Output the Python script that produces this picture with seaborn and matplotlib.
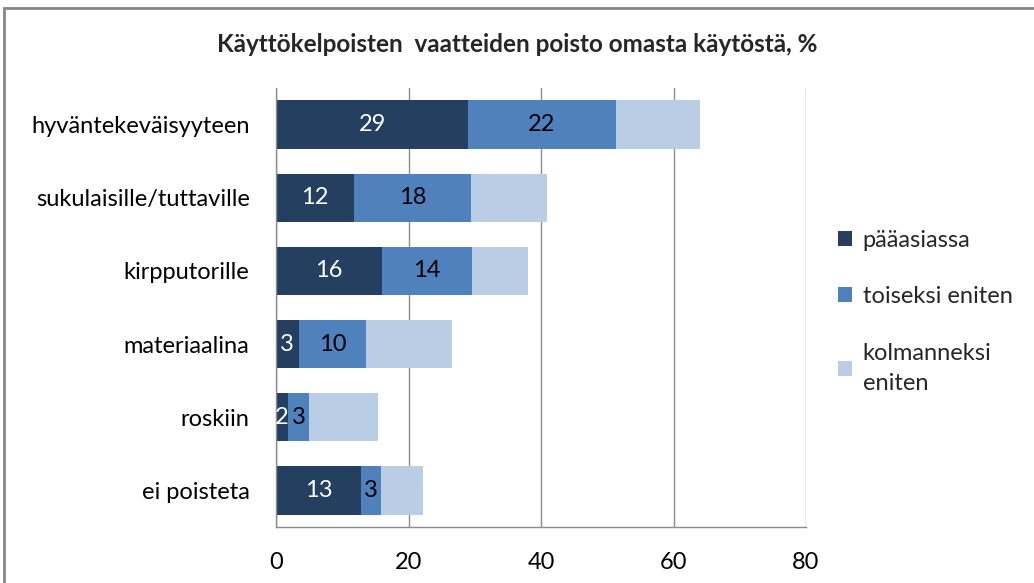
import seaborn as sns
import matplotlib.pyplot as plt
import pandas as pd
from matplotlib.patches import Rectangle

categories = ['hyväntekeväisyyteen', 'sukulaisille/tuttaville', 'kirpputorille',
              'materiaalina', 'roskiin', 'ei poisteta']
paaasiassa = [29.0, 11.8, 16.0, 3.4, 1.8, 12.8]
toiseksi = [22.3, 17.6, 13.6, 10.2, 3.2, 3.0]
kolmanneksi = [12.7, 11.5, 8.4, 13.0, 10.4, 6.4]
series_names = ['pääasiassa', 'toiseksi eniten', 'kolmanneksi\neniten']
colors = ['#243F60', '#4F81BD', '#B9CDE5']
title = 'Käyttökelpoisten  vaatteiden poisto omasta käytöstä, %'

df = pd.DataFrame({'kategoria': categories, 's1': paaasiassa,
                   's2': toiseksi, 's3': kolmanneksi})
df['c1'] = df['s1']
df['c2'] = df['s1'] + df['s2']
df['c3'] = df['c2'] + df['s3']

sns.set_style('white')
plt.rcParams['font.family'] = ['Lato', 'DejaVu Sans']

fig = plt.figure(figsize=(10.34, 5.83), dpi=100)
ax = fig.add_axes([276 / 1034, 1 - 527 / 583, 530 / 1034, 439 / 583])

# stacked bars: draw cumulative totals from largest to smallest
for col, color, name in zip(['c3', 'c2', 'c1'], colors[::-1], series_names[::-1]):
    sns.barplot(data=df, x=col, y='kategoria', color=color, width=0.66,
                saturation=1, ax=ax, label=name, linewidth=0)

# value labels for first two series
first = ax.containers[2]
second = ax.containers[1]
for bar, v in zip(first, paaasiassa):
    ax.text(bar.get_x() + bar.get_width() / 2, bar.get_y() + bar.get_height() / 2,
            f'{v:.0f}', ha='center', va='center', color='white', fontsize=17)
for bar, v, base in zip(second, toiseksi, paaasiassa):
    ax.text(base + v / 2, bar.get_y() + bar.get_height() / 2,
            f'{v:.0f}', ha='center', va='center', color='black', fontsize=17)

ax.set_xlim(0, 80)
ax.set_xticks([0, 20, 40, 60, 80])
ax.grid(axis='x', color='#8C8C8C', linewidth=1)
ax.set_axisbelow(True)
ax.set_xlabel('')
ax.set_ylabel('')
ax.tick_params(axis='x', labelsize=17, pad=18, length=0, colors='black')
ax.tick_params(axis='y', labelsize=17, pad=19, length=0, colors='black')
for s in ['top', 'right']:
    ax.spines[s].set_visible(False)
for s in ['left', 'bottom']:
    ax.spines[s].set_color('#8C8C8C')
    ax.spines[s].set_linewidth(1)

handles, labels = ax.get_legend_handles_labels()
order = [labels.index(n) for n in series_names]
leg = ax.legend([handles[i] for i in order], [labels[i] for i in order],
                loc='center left', bbox_to_anchor=(1.02, 0.49), frameon=False,
                fontsize=17, handlelength=0.6, handleheight=0.6, handletextpad=0.45,
                labelspacing=1.5)
for t in leg.get_texts():
    t.set_linespacing(1.55)

fig.text(0.5, 1 - 45 / 583, title, ha='center', va='center',
         fontsize=17.5, fontweight='bold')

fig.patches.append(Rectangle((4 / 1034, -0.1), 1.2, 1.1 - 8 / 583,
                             transform=fig.transFigure, fill=False,
                             edgecolor='#868686', linewidth=2))

plt.savefig('out.png', dpi=100)
